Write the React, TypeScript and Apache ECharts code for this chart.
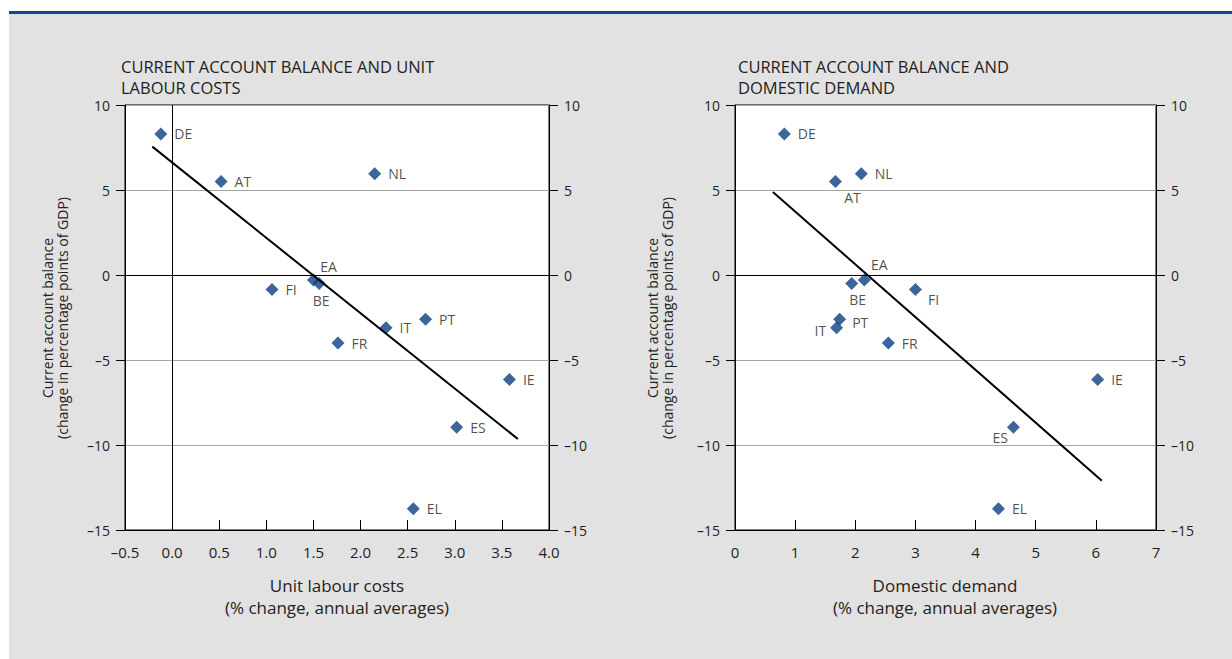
import React, { useEffect, useRef } from 'react';
import * as echarts from 'echarts';

// ---- Data ----
const countries = ['DE', 'AT', 'NL', 'FI', 'EA', 'BE', 'PT', 'IT', 'FR', 'IE', 'ES', 'EL'];
// Current account balance (change in pp of GDP)
const caBalance = [8.3, 5.5, 5.95, -0.85, -0.3, -0.5, -2.6, -3.1, -4.0, -6.15, -8.95, -13.75];
// Unit labour costs (% change, annual averages)
const unitLabourCosts = [-0.12, 0.52, 2.15, 1.06, 1.5, 1.56, 2.69, 2.27, 1.76, 3.58, 3.02, 2.56];
// Domestic demand (% change, annual averages)
const domesticDemand = [0.82, 1.67, 2.1, 3.0, 2.15, 1.94, 1.74, 1.69, 2.55, 6.03, 4.63, 4.38];
// Trend lines (end points)
const ulcTrendX = [-0.21, 3.67];
const ulcTrendY = [7.55, -9.65];
const ddTrendX = [0.63, 6.1];
const ddTrendY = [4.88, -12.1];
// Axis ticks
const ulcTicks = [-0.5, 0.0, 0.5, 1.0, 1.5, 2.0, 2.5, 3.0, 3.5, 4.0];
const ddTicks = [0, 1, 2, 3, 4, 5, 6, 7];
const caTicks = [-15, -10, -5, 0, 5, 10];

// ---- Styles ----
const FONT = '"Open Sans", "Noto Sans", sans-serif';
const TXT = '#231f20';
const MARK = '#0a3f82';

const leftPlacement: Record<string, any> = {
  EA: { position: 'top', distance: 0, offset: [15, 0] },
  BE: { position: 'bottom', distance: 3, offset: [2, 0] },
};
const rightPlacement: Record<string, any> = {
  AT: { position: 'bottom', distance: 2, offset: [17, 0] },
  BE: { position: 'bottom', distance: 2, offset: [6, 0] },
  EA: { position: 'top', distance: 2, offset: [15, 0] },
  FI: { position: 'right', distance: 6, offset: [0, 10] },
  PT: { position: 'right', distance: 6, offset: [0, 3] },
  IT: { position: 'left', distance: 4, offset: [0, 3] },
  ES: { position: 'left', distance: 0, offset: [1, 10] },
};

const dash = (s: string) => s.replace('-', '\u2013');

function buildOption() {
  const grids = [
    { left: 125, top: 105, width: 424, height: 425 },
    { left: 735, top: 105, width: 421, height: 425 },
  ].map((g) => ({ ...g, show: true, backgroundColor: '#fff', borderColor: '#000', borderWidth: 1, containLabel: false }));

  const xAxisBase = (gi: number, ticks: number[], dec: number) => ({
    gridIndex: gi,
    type: 'value',
    min: ticks[0],
    max: ticks[ticks.length - 1],
    interval: ticks[1] - ticks[0],
    axisLine: { show: true, onZero: false, lineStyle: { color: '#000', width: 1 } },
    axisTick: { show: true, inside: true, length: 10, lineStyle: { color: '#000' } },
    axisLabel: {
      margin: 14,
      color: TXT,
      fontFamily: FONT,
      fontSize: 15,
      formatter: (v: number) => dash(v.toFixed(dec)),
    },
    splitLine: { show: false },
  });

  const yAxisBase = (gi: number, pos: 'left' | 'right') => ({
    gridIndex: gi,
    type: 'value',
    position: pos,
    min: caTicks[0],
    max: caTicks[caTicks.length - 1],
    interval: caTicks[1] - caTicks[0],
    axisLine: { show: true, onZero: false, lineStyle: { color: '#000', width: 1 } },
    axisTick: { show: true, inside: false, length: 9, lineStyle: { color: '#000' } },
    axisLabel: {
      margin: 15,
      color: TXT,
      fontFamily: FONT,
      fontSize: 14,
      formatter: (v: number) => dash(String(v)),
    },
    splitLine: { show: pos === 'left', lineStyle: { color: '#a6a6a6', width: 1 } },
  });

  const scatter = (gi: number, xs: number[], placement: Record<string, any>, withVLine: boolean) => ({
    type: 'scatter',
    xAxisIndex: gi,
    yAxisIndex: gi * 2,
    symbol: 'diamond',
    symbolSize: 13,
    itemStyle: { color: MARK },
    z: 3,
    label: {
      show: true,
      position: 'right',
      distance: 7,
      formatter: '{b}',
      color: TXT,
      fontFamily: FONT,
      fontSize: 14,
    },
    data: countries.map((c, i) => ({
      name: c,
      value: [xs[i], caBalance[i]],
      label: placement[c] || undefined,
    })),
    markLine: {
      silent: true,
      symbol: ['none', 'none'],
      label: { show: false },
      lineStyle: { color: '#000', type: 'solid', width: 1 },
      data: withVLine ? [{ yAxis: 0 }, { xAxis: 0 }] : [{ yAxis: 0 }],
    },
  });

  const trend = (gi: number, xs: number[], ys: number[]) => ({
    type: 'line',
    xAxisIndex: gi,
    yAxisIndex: gi * 2,
    symbol: 'none',
    lineStyle: { color: '#000', width: 2 },
    z: 4,
    data: xs.map((x, i) => [x, ys[i]]),
  });

  const txt = (x: number, y: number, text: string, extra: any = {}) => ({
    type: 'text',
    x,
    y,
    z: 10,
    style: {
      text,
      fill: TXT,
      font: `14px ${FONT}`,
      textAlign: 'left',
      textVerticalAlign: 'middle',
      ...extra,
    },
  });

  const vtxt = (x: number, y: number, text: string) => ({
    type: 'text', x, y, rotation: Math.PI / 2, z: 10,
    style: { text, fill: TXT, font: `14px ${FONT}`, textAlign: 'center', textVerticalAlign: 'middle' },
  });

  const graphic: any[] = [
    { type: 'rect', z: -10, shape: { x: 9, y: 14, width: 1223, height: 645 }, style: { fill: '#e2e2e2' } },
    { type: 'rect', z: -9, shape: { x: 9, y: 11, width: 1223, height: 3 }, style: { fill: '#0b4a92' } },
    txt(121, 66, 'CURRENT ACCOUNT BALANCE AND UNIT', { font: `16.5px ${FONT}` }),
    txt(121, 87, 'LABOUR COSTS', { font: `16.5px ${FONT}` }),
    txt(738, 66, 'CURRENT ACCOUNT BALANCE AND', { font: `16.5px ${FONT}` }),
    txt(738, 87, 'DOMESTIC DEMAND', { font: `16.5px ${FONT}` }),
    txt(337, 585, 'Unit labour costs', { textAlign: 'center', font: `17px ${FONT}` }),
    txt(337, 607, '(% change, annual averages)', { textAlign: 'center', font: `17px ${FONT}` }),
    txt(945, 585, 'Domestic demand', { textAlign: 'center', font: `17px ${FONT}` }),
    txt(945, 607, '(% change, annual averages)', { textAlign: 'center', font: `17px ${FONT}` }),
    vtxt(47, 318, 'Current account balance'),
    vtxt(62, 318, '(change in percentage points of GDP)'),
    vtxt(652, 318, 'Current account balance'),
    vtxt(667, 318, '(change in percentage points of GDP)'),
  ];

  return {
    animation: false,
    backgroundColor: '#fff',
    grid: grids,
    xAxis: [xAxisBase(0, ulcTicks, 1), xAxisBase(1, ddTicks, 0)],
    yAxis: [yAxisBase(0, 'left'), yAxisBase(0, 'right'), yAxisBase(1, 'left'), yAxisBase(1, 'right')],
    series: [
      scatter(0, unitLabourCosts, leftPlacement, true),
      trend(0, ulcTrendX, ulcTrendY),
      scatter(1, domesticDemand, rightPlacement, false),
      trend(1, ddTrendX, ddTrendY),
    ],
    graphic,
  };
}

export default function App() {
  const ref = useRef<HTMLDivElement>(null);
  useEffect(() => {
    document.body.style.margin = '0';
    const chart = echarts.init(ref.current!, null, { renderer: 'svg' });
    chart.setOption(buildOption() as any);
    return () => chart.dispose();
  }, []);
  return <div ref={ref} style={{ position: 'absolute', left: 0, top: 0, width: 1232, height: 659 }} />;
}
